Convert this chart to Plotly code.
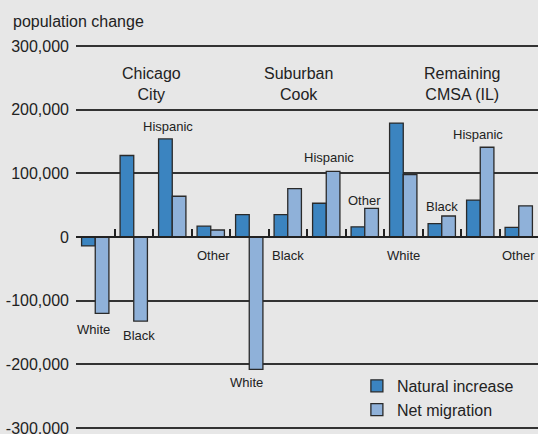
import plotly.graph_objects as go

# ---- data ----
regions = ["Chicago City", "Suburban Cook", "Remaining CMSA (IL)"]
groups = ["White", "Black", "Hispanic", "Other"]
categories = [f"{r} | {g}" for r in regions for g in groups]

natural_increase = [-14000, 128000, 154000, 17000,
                    35000, 35000, 53000, 16000,
                    179000, 21000, 58000, 15000]
net_migration = [-120000, -132000, 64000, 11000,
                 -208000, 76000, 103000, 45000,
                 98000, 33000, 141000, 49000]

y_tickvals = [-300000, -200000, -100000, 0, 100000, 200000, 300000]
y_ticktext = ["-300,000", "-200,000", "-100,000", "0", "100,000", "200,000", "300,000"]

# label placement (layout only): y centre of each group label, in axis units
label_y = [-145000, -154000, 174000, -29000,
           -228000, -29000, 125000, 58000,
           -29000, 48000, 161000, -29000]
label_xshift = [-2, 5, -4, 3, -3, 0, 3, 0, 0, 0, -2, 0]

region_label_text = ["Chicago<br>City", "Suburban<br>Cook", "Remaining<br>CMSA (IL)"]
region_label_x = [1.47, 5.27, 9.53]
region_label_y = 241000

DARK = "#3b84c0"
LIGHT = "#8fb1d9"
BG = "#e7e7e7"
INK = "#222222"
FONT = "Liberation Sans, Arial, sans-serif"

Y_EXT = 304712  # range slightly beyond +/-300,000 so the end gridlines are drawn

x_idx = list(range(len(categories)))
boundaries = [i - 0.5 for i in range(len(categories) + 1)]

fig = go.Figure()
fig.add_trace(go.Bar(name="Natural increase", x=x_idx, y=natural_increase,
                     hovertext=categories,
                     marker=dict(color=DARK, line=dict(color="#2a2a2a", width=1.3))))
fig.add_trace(go.Bar(name="Net migration", x=x_idx, y=net_migration,
                     hovertext=categories,
                     marker=dict(color=LIGHT, line=dict(color="#2a2a2a", width=1.3))))

annotations = []
for i, (cat, ly) in enumerate(zip(categories, label_y)):
    annotations.append(dict(x=i, y=ly, xref="x", yref="y", text=cat.split(" | ")[1],
                            showarrow=False, xanchor="center", yanchor="middle",
                            xshift=label_xshift[i],
                            font=dict(size=13, color=INK, family=FONT)))
for t, xx in zip(region_label_text, region_label_x):
    annotations.append(dict(x=xx, y=region_label_y, xref="x", yref="y", text=t,
                            showarrow=False, xanchor="center", yanchor="middle",
                            font=dict(size=16, color=INK, family=FONT)))
annotations.append(dict(x=-0.1407, y=1.055, xref="paper", yref="paper",
                        text="population change", showarrow=False,
                        xanchor="left", yanchor="middle",
                        font=dict(size=16, color=INK, family=FONT)))

fig.update_layout(
    width=538, height=434,
    margin=dict(l=76, r=0, t=43, b=3, autoexpand=False),
    paper_bgcolor=BG, plot_bgcolor=BG,
    barmode="group", bargap=0.29, bargroupgap=0,
    font=dict(family=FONT, color=INK, size=16),
    annotations=annotations,
    legend=dict(x=0.608, y=0.16, xanchor="left", yanchor="top",
                bgcolor="rgba(0,0,0,0)", font=dict(size=16, color=INK, family=FONT)),
    xaxis=dict(range=[-0.5, len(categories) - 0.5], tickvals=boundaries,
               showticklabels=False, showgrid=False, automargin=False,
               ticks="inside", ticklen=7, tickwidth=1.5,
               tickcolor=INK, showline=True, linecolor=INK, linewidth=2,
               anchor="free", position=0.5, zeroline=False),
    yaxis=dict(range=[-Y_EXT, Y_EXT], tickvals=y_tickvals, ticktext=y_ticktext,
               showgrid=True, gridcolor="#333333", gridwidth=2, zeroline=False,
               ticks="", ticklabelstandoff=6, showline=False, automargin=False,
               ticklabeloverflow="allow",
               tickfont=dict(size=16, color=INK, family=FONT)),
)

fig.write_html("out.html", config={"displayModeBar": False},
               post_script="document.body.style.margin='0';")
